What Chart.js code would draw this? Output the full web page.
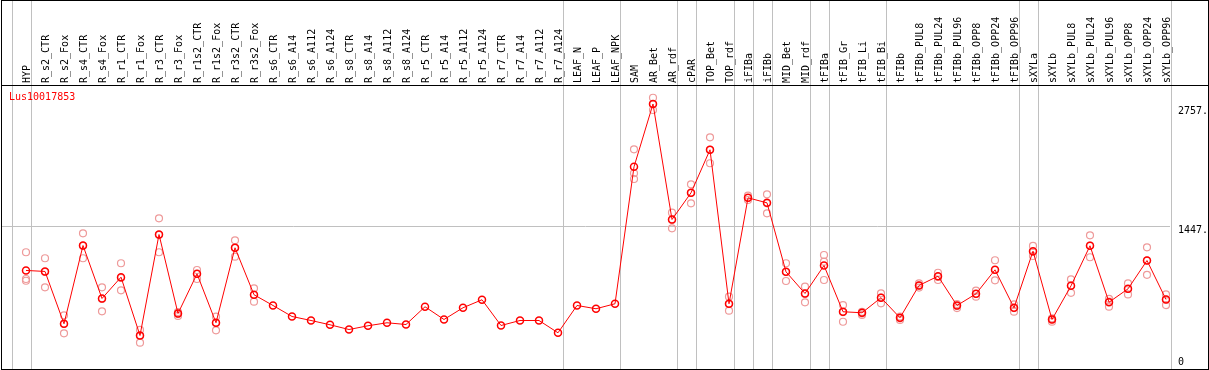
<!DOCTYPE html>
<html>
<head>
<meta charset="utf-8">
<script src="https://cdn.jsdelivr.net/npm/chart.js@4/dist/chart.umd.min.js"></script>
<style>
  html, body { margin: 0; padding: 0; background: #fff; }
  canvas { display: block; }
</style>
</head>
<body>
<canvas id="Chart" width="1209" height="370"></canvas>
<script>
var geneName = 'Lus10017853';

var categories = ['HYP', 'R_s2_CTR', 'R_s2_Fox', 'R_s4_CTR', 'R_s4_Fox', 'R_r1_CTR', 'R_r1_Fox',
  'R_r3_CTR', 'R_r3_Fox', 'R_r1s2_CTR', 'R_r1s2_Fox', 'R_r3s2_CTR', 'R_r3s2_Fox',
  'R_s6_CTR', 'R_s6_A14', 'R_s6_A112', 'R_s6_A124', 'R_s8_CTR', 'R_s8_A14', 'R_s8_A112', 'R_s8_A124',
  'R_r5_CTR', 'R_r5_A14', 'R_r5_A112', 'R_r5_A124', 'R_r7_CTR', 'R_r7_A14', 'R_r7_A112', 'R_r7_A124',
  'LEAF_N', 'LEAF_P', 'LEAF_NPK', 'SAM', 'AR_Bet', 'AR_rdf', 'cPAR', 'TOP_Bet', 'TOP_rdf',
  'iFIBa', 'iFIBb', 'MID_Bet', 'MID_rdf', 'tFIBa', 'tFIB_Gr', 'tFIB_Li', 'tFIB_Bi',
  'tFIBb', 'tFIBb_PUL8', 'tFIBb_PUL24', 'tFIBb_PUL96', 'tFIBb_OPP8', 'tFIBb_OPP24', 'tFIBb_OPP96',
  'sXYLa', 'sXYLb', 'sXYLb_PUL8', 'sXYLb_PUL24', 'sXYLb_PUL96', 'sXYLb_OPP8', 'sXYLb_OPP24', 'sXYLb_OPP96'];

var meanValues = [962, 951, 376, 1236, 654, 888, 247, 1357, 489, 925, 387, 1211, 695,
  577, 456, 412, 365, 313, 354, 387, 368, 563, 423, 552, 640, 357, 412, 412, 277,
  577, 541, 596, 2101, 2791, 1522, 1815, 2288, 596, 1760, 1705, 947, 709,
  1016, 508, 497, 662, 442, 797, 899, 577, 705, 969, 552,
  1174, 423, 793, 1233, 613, 760, 1071, 643];

var replicates = [
  [1162, 868, 849], [1096, 945, 777], [469, 374, 271], [1370, 1231, 1096], [777, 648, 513],
  [1041, 879, 744], [308, 242, 168], [1535, 1352, 1162], [505, 484, 462], [967, 923, 868],
  [454, 385, 304], [1293, 1209, 1113], [766, 692, 619],
  [], [], [], [], [], [], [], [], [], [], [], [], [], [], [], [], [], [], [],
  [2293, 2030, 1967], [2860, 2791, 2725], [1597, 1516, 1425], [1909, 1813, 1700],
  [2425, 2286, 2140], [674, 593, 520], [1784, 1758, 1736], [1799, 1700, 1590],
  [1041, 945, 846], [784, 703, 612], [1132, 1058, 857], [582, 505, 398], [507, 490, 473],
  [711, 665, 601], [456, 436, 418], [819, 796, 774], [937, 890, 857], [593, 571, 549],
  [740, 703, 674], [1074, 967, 854], [590, 549, 509], [1231, 1165, 1121], [436, 423, 399],
  [865, 797, 716], [1348, 1236, 1107], [650, 621, 564], [819, 758, 698], [1216, 1071, 914],
  [698, 643, 582]
];

var yTicks = [0, 1447, 2757];

// index of the last category in each group (gray separators)
var groupEnds = [-1, 0, 28, 31, 34, 35, 37, 38, 39, 41, 42, 45, 52, 53, 60];

var monoFont = { family: 'DejaVu Sans Mono', size: 10 };

var meanPoints = meanValues.map(function(v, i) { return { x: i, y: v }; });
var repPoints = [];
replicates.forEach(function(list, i) {
  list.forEach(function(v) { repPoints.push({ x: i, y: v }); });
});

var framePlugin = {
  id: 'frame',
  beforeDatasetsDraw: function(chart) {
    var ctx = chart.ctx, xs = chart.scales.x;
    ctx.save();
    ctx.strokeStyle = '#c0c0c0';
    ctx.lineWidth = 1;
    groupEnds.forEach(function(i) {
      var px = Math.round(xs.getPixelForValue(i + 0.24)) + 0.5;
      ctx.beginPath();
      ctx.moveTo(px, 0);
      ctx.lineTo(px, chart.height);
      ctx.stroke();
    });
    ctx.restore();
  },
  afterDraw: function(chart) {
    var ctx = chart.ctx, a = chart.chartArea;
    ctx.save();
    ctx.strokeStyle = '#000';
    ctx.lineWidth = 1;
    ctx.strokeRect(1.5, 0.5, chart.width - 2, chart.height - 1);
    ctx.beginPath();
    ctx.moveTo(1, Math.round(a.top) - 0.5);
    ctx.lineTo(chart.width, Math.round(a.top) - 0.5);
    ctx.stroke();
    ctx.fillStyle = '#ff0000';
    ctx.font = '10px "DejaVu Sans Mono"';
    ctx.textBaseline = 'middle';
    ctx.fillText(geneName, 9, 97);
    ctx.restore();
  }
};

var ctx = document.getElementById('Chart').getContext('2d');
var chart = new Chart(ctx, {
  type: 'line',
  data: {
    datasets: [{
      data: meanPoints,
      borderColor: '#ff0000',
      borderWidth: 1,
      pointRadius: 3.5,
      pointBorderWidth: 1.5,
      pointBorderColor: '#ff0000',
      pointBackgroundColor: 'rgba(0,0,0,0)',
      fill: false,
      tension: 0
    }, {
      data: repPoints,
      showLine: false,
      pointRadius: 3.5,
      pointBorderWidth: 1.2,
      pointBorderColor: '#ee9a9a',
      pointBackgroundColor: 'rgba(0,0,0,0)'
    }]
  },
  options: {
    responsive: false,
    animation: false,
    layout: { autoPadding: false, padding: { left: 1, right: 1, top: 0, bottom: 1 } },
    plugins: { legend: { display: false }, tooltip: { enabled: false } },
    scales: {
      x: {
        type: 'linear',
        display: false,
        min: -1.3158,
        max: 60.2105
      },
      x2: {
        type: 'linear',
        position: 'top',
        min: -1.3158,
        max: 60.2105,
        afterBuildTicks: function(s) {
          s.ticks = categories.map(function(c, i) { return { value: i }; });
        },
        afterFit: function(s) {
          s.height = 86;
          s.paddingLeft = 0;
          s.paddingRight = 0;
        },
        grid: { display: false, drawTicks: false },
        border: { display: false },
        ticks: {
          autoSkip: false,
          minRotation: 90,
          maxRotation: 90,
          padding: 3,
          labelOffset: 13,
          color: '#000',
          font: monoFont,
          callback: function(v) { return categories[v]; }
        }
      },
      y: {
        position: 'right',
        min: -121,
        max: 2989,
        afterBuildTicks: function(s) {
          s.ticks = yTicks.map(function(v) { return { value: v }; });
        },
        afterFit: function(s) {
          s.width = 38;
          s.paddingTop = 0;
          s.paddingBottom = 0;
        },
        grid: {
          drawTicks: false,
          color: function(c) { return c.tick && c.tick.value === 1447 ? '#c0c0c0' : 'rgba(0,0,0,0)'; }
        },
        border: { display: false },
        ticks: {
          padding: 8,
          labelOffset: 4,
          color: '#000',
          font: monoFont,
          callback: function(v) { return v === 0 ? '0' : v + '.'; }
        }
      }
    }
  },
  plugins: [framePlugin]
});
</script>
</body>
</html>
